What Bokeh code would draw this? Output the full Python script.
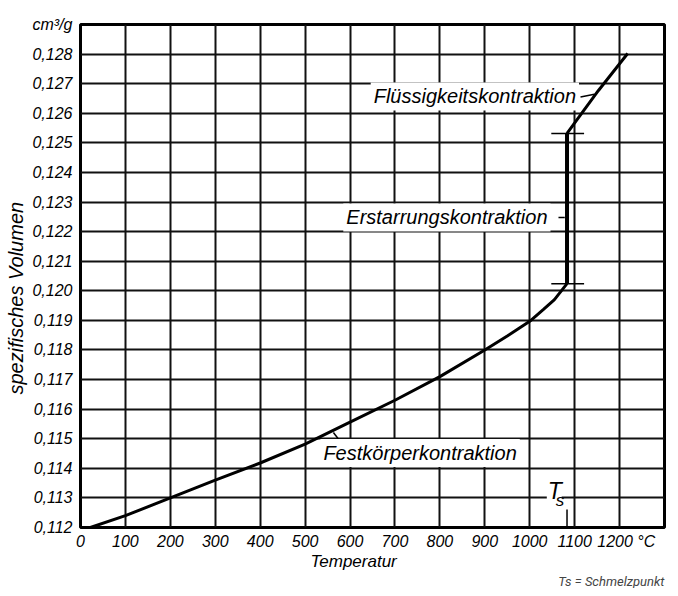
from bokeh.plotting import figure
from bokeh.models import Range1d, FixedTicker, Label, Title
from bokeh.embed import file_html
from bokeh.resources import INLINE

# ---- data ----
solid_temp = [22, 100, 200, 300, 400, 500, 600, 700, 800, 900, 950, 1000, 1030, 1055, 1083]
solid_vol = [0.11200, 0.11240, 0.11300, 0.11360, 0.11418, 0.11482, 0.11556,
             0.11630, 0.11710, 0.11800, 0.11847, 0.11897, 0.11936, 0.11970, 0.12024]
liquid_temp = [1083, 1153, 1218]
liquid_vol = [0.12532, 0.12677, 0.12802]
melt_temp = 1083

x_ticks = [0, 100, 200, 300, 400, 500, 600, 700, 800, 900, 1000, 1100, 1200]
x_labels = ["0", "100", "200", "300", "400", "500", "600", "700", "800",
            "900", "1000", "1100", "1200"]
x_unit = "°C"
y_ticks = [round(0.112 + 0.001 * i, 3) for i in range(18)]
y_labels = ["0,112", "0,113", "0,114", "0,115", "0,116", "0,117", "0,118",
            "0,119", "0,120", "0,121", "0,122", "0,123", "0,124", "0,125",
            "0,126", "0,127", "0,128"]
y_unit = "cm³/g"

FONT = "Liberation Sans"
NB = "\u00a0"

p = figure(width=670, height=588, output_backend="svg", toolbar_location=None,
           x_range=Range1d(0, 1300), y_range=Range1d(0.112, 0.129),
           min_border_left=80, min_border_right=6, min_border_top=24,
           min_border_bottom=61)
p.background_fill_color = "white"
p.border_fill_color = "white"
p.outline_line_color = "black"
p.outline_line_width = 3

# grid
p.xgrid.ticker = FixedTicker(ticks=x_ticks + [1300])
p.ygrid.ticker = FixedTicker(ticks=y_ticks)
for g in (p.xgrid, p.ygrid):
    g.grid_line_color = "#111111"
    g.grid_line_width = 2
    g.grid_line_alpha = 1

# axes
xl = dict(zip(x_ticks, x_labels))
xl[x_ticks[-1]] = NB * 3 + x_labels[-1] + NB + x_unit
yl = dict(zip(y_ticks, y_labels))
yl[y_ticks[-1]] = y_unit          # unit written at the top of the y axis
p.xaxis.ticker = FixedTicker(ticks=x_ticks)
p.xaxis.major_label_overrides = xl
p.yaxis.ticker = FixedTicker(ticks=y_ticks)
p.yaxis.major_label_overrides = yl
for ax in (p.xaxis, p.yaxis):
    ax.axis_line_color = None
    ax.major_tick_line_color = None
    ax.minor_tick_line_color = None
    ax.major_tick_out = 0
    ax.major_tick_in = 0
    ax.major_label_text_font = FONT
    ax.major_label_text_font_style = "italic"
    ax.major_label_text_font_size = "16px"
    ax.major_label_text_color = "black"
    ax.axis_label_text_font = FONT
    ax.axis_label_text_font_style = "italic"
    ax.axis_label_text_color = "black"
p.xaxis.major_label_standoff = 5
p.yaxis.major_label_standoff = 8
p.xaxis.axis_label = "Temperatur" + NB * 8
p.xaxis.axis_label_text_font_size = "17px"
p.xaxis.axis_label_standoff = -1
p.yaxis.axis_label = "spezifisches Volumen" + NB * 8
p.yaxis.axis_label_text_font_size = "20px"
p.yaxis.axis_label_standoff = 2

# footnote below
p.add_layout(Title(text="Ts = Schmelzpunkt", align="right", offset=0, standoff=-3,
                   text_font="Roboto", text_font_style="italic",
                   text_font_size="13px", text_color="#444444"), "below")

# mask behind the Ts label (covers the grid line)
p.quad(left=[1038], right=[1071], bottom=[0.11262], top=[0.11348],
       fill_color="white", line_color=None)

# curves
p.line(solid_temp, solid_vol, line_color="black", line_width=3)
p.line(liquid_temp, liquid_vol, line_color="black", line_width=3)
p.segment(x0=[melt_temp], y0=[solid_vol[-1]], x1=[melt_temp], y1=[liquid_vol[0]],
          line_color="black", line_width=4)
p.segment(x0=[melt_temp - 35, melt_temp - 35], y0=[solid_vol[-1], liquid_vol[0]],
          x1=[melt_temp + 38, melt_temp + 38], y1=[solid_vol[-1], liquid_vol[0]],
          line_color="black", line_width=1.5)

# annotation labels with white boxes
def box_label(x, y, text, size="20px", align="left"):
    lab = Label(x=x, y=y, text=text, text_font=FONT, text_font_style="italic",
                text_font_size=size, text_align=align, text_baseline="middle",
                text_color="black", background_fill_color="white",
                border_line_color=None, padding=3)
    p.add_layout(lab)
    return lab

box_label(646, 0.12657, "Flüssigkeitskontraktion")
box_label(585, 0.12248, "Erstarrungskontraktion")
box_label(534, 0.11452, "Festkörperkontraktion")

# leader lines
p.segment(x0=[1113, 1064, 563], y0=[0.12655, 0.12248, 0.11521],
          x1=[1144, 1078, 585], y1=[0.12664, 0.12248, 0.11477],
          line_color="black", line_width=1.5)

# Ts marker
p.add_layout(Label(x=1040, y=0.11325, text="T", text_font=FONT,
                   text_font_style="italic", text_font_size="23px",
                   text_baseline="middle", text_color="black"))
p.add_layout(Label(x=1058, y=0.11290, text="s", text_font=FONT,
                   text_font_style="italic", text_font_size="17px",
                   text_baseline="middle", text_color="black"))
p.segment(x0=[melt_temp], y0=[0.112], x1=[melt_temp], y1=[0.11261],
          line_color="black", line_width=1.5)

open("out.html", "w").write(file_html(p, INLINE))
